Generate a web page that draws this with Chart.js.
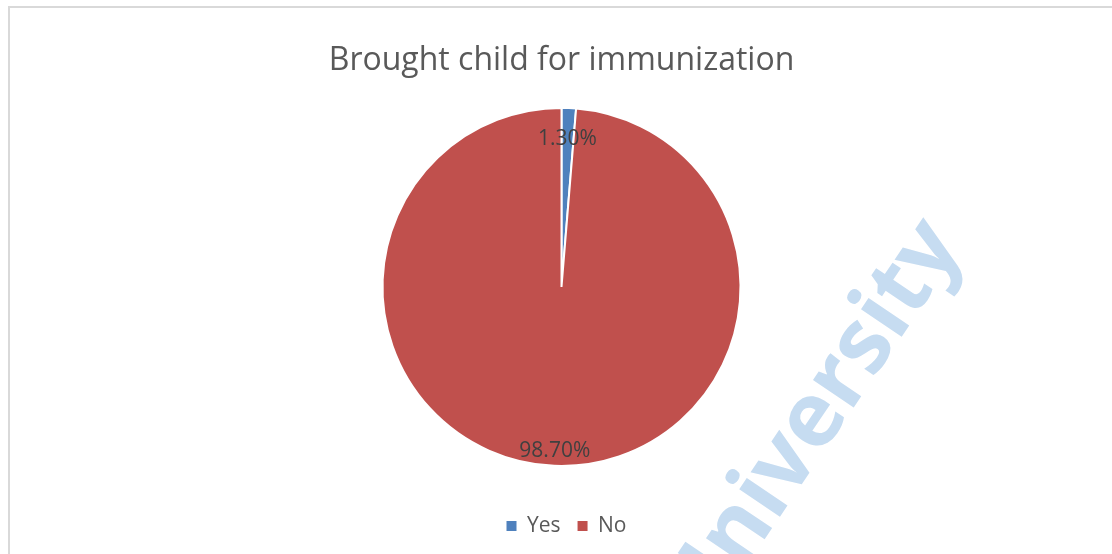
<!DOCTYPE html>
<html>
<head>
<meta charset="utf-8">
<script src="https://cdn.jsdelivr.net/npm/chart.js@4/dist/chart.umd.min.js"></script>
<style>
  html, body { margin: 0; padding: 0; background: #ffffff; }
  #wrap { position: relative; width: 1112px; height: 554px; overflow: hidden; }
  canvas { position: absolute; left: 0; top: 0; }
</style>
</head>
<body>
<div id="wrap"><canvas id="pie" width="1112" height="554"></canvas></div>
<script>
// Survey answers: did the mother bring the child for immunization?
const categories = ['Yes', 'No'];
const shares = [1.3, 98.7];
const sliceColors = ['#4f81bd', '#c0504d'];
const chartTitle = 'Brought child for immunization';
const watermarkText = 'University';

// Frame around the chart and the faint watermark behind it
const framePlugin = {
  id: 'frame',
  beforeDraw(chart) {
    const ctx = chart.ctx;
    ctx.save();
    ctx.fillStyle = '#ffffff';
    ctx.fillRect(0, 0, chart.width, chart.height);
    ctx.strokeStyle = '#d9d9d9';
    ctx.lineWidth = 2;
    ctx.beginPath();
    ctx.moveTo(9, chart.height + 10);
    ctx.lineTo(9, 7);
    ctx.lineTo(chart.width + 10, 7);
    ctx.stroke();

    ctx.translate(813, 422);
    ctx.rotate(-55.9 * Math.PI / 180);
    ctx.font = 'bold 90px "Open Sans"';
    ctx.fillStyle = '#c6dcf1';
    ctx.textAlign = 'center';
    ctx.textBaseline = 'middle';
    ctx.fillText(watermarkText, 0, 0);
    ctx.restore();
  }
};

// Nudge the legend row slightly to the right and down
const legendNudge = {
  id: 'legendNudge',
  afterLayout(chart, args, opts) {
    const lg = chart.legend;
    if (!lg) return;
    lg.left += opts.dx; lg.right += opts.dx;
    lg.top += opts.dy; lg.bottom += opts.dy;
  }
};

// Percentage labels placed near the outer edge of each slice
const sliceLabelPlugin = {
  id: 'sliceLabels',
  afterDatasetsDraw(chart, args, opts) {
    const ctx = chart.ctx;
    const meta = chart.getDatasetMeta(0);
    ctx.save();
    ctx.font = opts.font;
    ctx.fillStyle = opts.color;
    ctx.textAlign = 'center';
    ctx.textBaseline = 'middle';
    meta.data.forEach((arc, i) => {
      const p = arc.getProps(['x', 'y', 'startAngle', 'endAngle', 'outerRadius'], true);
      const mid = (p.startAngle + p.endAngle) / 2;
      const r = p.outerRadius * opts.radial[i];
      const value = chart.data.datasets[0].data[i];
      ctx.fillText(value.toFixed(2) + '%', p.x + Math.cos(mid) * r, p.y + Math.sin(mid) * r);
    });
    ctx.restore();
  }
};

new Chart(document.getElementById('pie'), {
  type: 'pie',
  data: {
    labels: categories,
    datasets: [{
      data: shares,
      backgroundColor: sliceColors,
      borderColor: '#ffffff',
      borderWidth: 2,
      hoverOffset: 0,
      radius: 179
    }]
  },
  options: {
    responsive: false,
    animation: false,
    devicePixelRatio: 1,
    layout: { padding: { left: 11, right: 0, top: 0, bottom: 10.5 } },
    plugins: {
      title: {
        display: true,
        text: chartTitle,
        color: '#595959',
        font: { family: '"Open Sans"', size: 32, weight: 'normal' },
        padding: { top: 42, bottom: -2 }
      },
      legend: {
        position: 'bottom',
        labels: {
          boxWidth: 10,
          boxHeight: 10,
          padding: 17,
          color: '#595959',
          font: { family: '"Open Sans"', size: 21 },
          generateLabels(chart) {
            const base = Chart.overrides.pie.plugins.legend.labels.generateLabels(chart);
            return base.map(item => Object.assign(item, { lineWidth: 0, strokeStyle: item.fillStyle }));
          }
        }
      },
      legendNudge: { dx: 5, dy: 3 },
      tooltip: { enabled: false },
      sliceLabels: {
        font: '21px "Open Sans"',
        color: '#404040',
        radial: [0.825, 0.915]
      }
    }
  },
  plugins: [framePlugin, legendNudge, sliceLabelPlugin]
});
</script>
</body>
</html>
